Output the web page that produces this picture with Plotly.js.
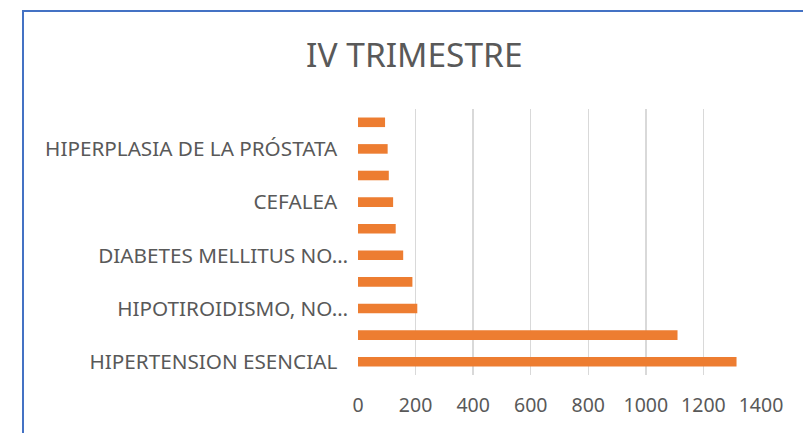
<!DOCTYPE html>
<html><head><meta charset="utf-8">
<script src="https://cdn.plot.ly/plotly-3.0.1.min.js"></script>
<style>
html,body{margin:0;padding:0;background:#fff;}
#wrap{position:relative;width:803px;height:433px;overflow:hidden;}
#frame{position:absolute;left:22px;top:10px;width:900px;height:600px;border-left:2px solid #4472C4;border-top:2px solid #4472C4;}
#chart{position:absolute;left:0;top:0;width:803px;height:433px;}
</style></head>
<body><div id="wrap"><div id="frame"></div><div id="chart"></div></div>
<script>
// categories from bottom to top
var categories = [
  "HIPERTENSION ESENCIAL",
  "CATEGORÍA 2",
  "HIPOTIROIDISMO, NO ESPECIFICADO",
  "CATEGORÍA 4",
  "DIABETES MELLITUS NO INSULINODEPENDIENTE",
  "CATEGORÍA 6",
  "CEFALEA",
  "CATEGORÍA 8",
  "HIPERPLASIA DE LA PRÓSTATA",
  "CATEGORÍA 10"
];
var values = [1315, 1110, 206, 189, 157, 131, 122, 107, 103, 94];
var shownTicks = ["HIPERTENSION ESENCIAL", "HIPOTIROIDISMO, NO ESPECIFICADO", "DIABETES MELLITUS NO INSULINODEPENDIENTE", "CEFALEA", "HIPERPLASIA DE LA PRÓSTATA"];
var shownText = ["HIPERTENSION ESENCIAL\u00a0\u00a0", "HIPOTIROIDISMO, NO…", "DIABETES MELLITUS NO…", "CEFALEA\u00a0\u00a0", "HIPERPLASIA DE LA PRÓSTATA\u00a0\u00a0"];
var xTicks = [0, 200, 400, 600, 800, 1000, 1200, 1400];

var font = "'Noto Sans', 'Open Sans', sans-serif";
var data = [{
  type: "bar", orientation: "h",
  y: categories, x: values,
  marker: {color: "#ED7D31"},
  hoverinfo: "x+y"
}];
var layout = {
  width: 803, height: 433,
  margin: {l: 358, r: 42, t: 109, b: 58},
  paper_bgcolor: "rgba(0,0,0,0)", plot_bgcolor: "rgba(0,0,0,0)",
  bargap: 0.64,
  showlegend: false,
  title: {text: "IV TRIMESTRE", x: 0.516, xanchor: "center", y: 0.873, yanchor: "middle", yref: "container",
          font: {family: font, size: 33.5, color: "#595959"}},
  xaxis: {range: [0, 1400], tickvals: xTicks, showgrid: true, gridcolor: "#D9D9D9", gridwidth: 1.4,
          zeroline: false, showline: false, ticks: "", ticklabelstandoff: 16,
          tickfont: {family: font, size: 19.5, color: "#595959"}},
  yaxis: {type: "category", categoryorder: "array", categoryarray: categories,
          tickvals: shownTicks, ticktext: shownText, showgrid: false, zeroline: false, showline: false,
          ticks: "", ticklabelstandoff: 9,
          tickfont: {family: font, size: 20.7, color: "#595959"}},
  font: {family: font, color: "#595959"}
};
Plotly.newPlot("chart", data, layout, {displayModeBar: false, staticPlot: true});
</script></body></html>
